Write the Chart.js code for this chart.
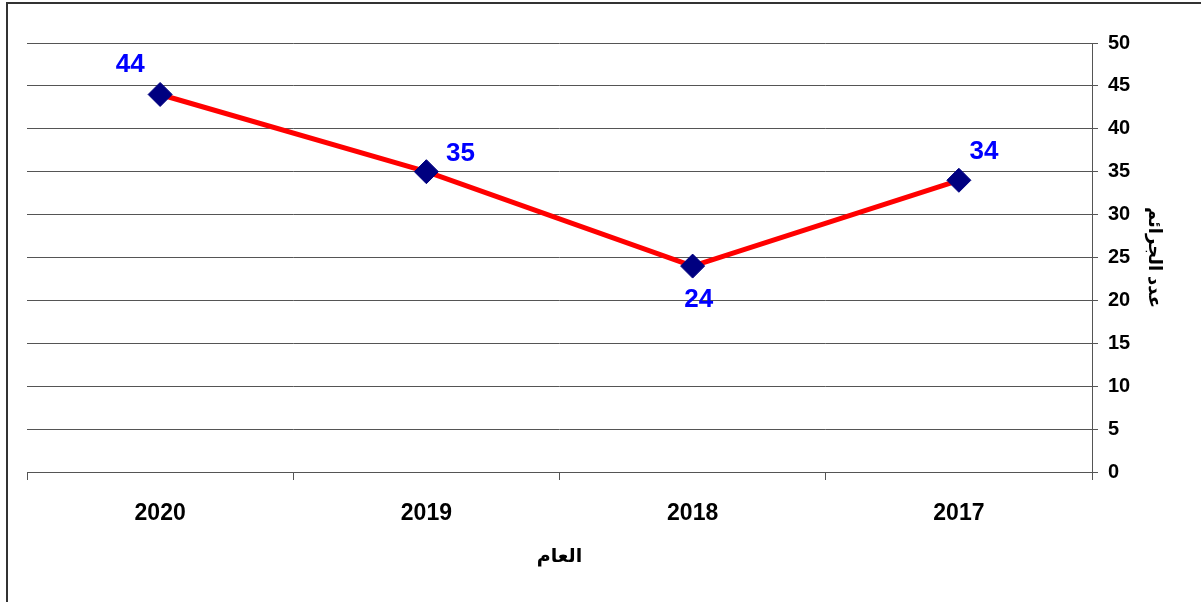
<!DOCTYPE html>
<html>
<head>
<meta charset="utf-8">
<script src="https://cdn.jsdelivr.net/npm/chart.js@4/dist/chart.umd.min.js"></script>
<style>
html,body{margin:0;padding:0;background:#fff;}
#wrap{position:relative;width:1201px;height:602px;}
canvas{display:block;}
</style>
</head>
<body>
<div id="wrap"><canvas id="c" width="1201" height="602"></canvas></div>
<script>
const categories = ['2020', '2019', '2018', '2017'];
const crimeCounts = [44, 35, 24, 34];
const yTitle = 'عدد الجرائم';
const xTitle = 'العام';
const yMin = 0, yMax = 50, yStep = 5;

const FONT = "'Liberation Sans', Arial, 'DejaVu Sans', sans-serif";

const framePlugin = {
  id: 'frame',
  beforeDraw(chart) {
    const ctx = chart.ctx;
    ctx.save();
    ctx.fillStyle = '#fff';
    ctx.fillRect(0, 0, chart.width, chart.height);
    ctx.strokeStyle = '#333';
    ctx.lineWidth = 2;
    ctx.beginPath();
    ctx.moveTo(7, chart.height);
    ctx.lineTo(7, 3);
    ctx.lineTo(chart.width, 3);
    ctx.stroke();
    ctx.restore();
  }
};

const labelPlugin = {
  id: 'pointLabels',
  afterDatasetsDraw(chart, args, opts) {
    const ctx = chart.ctx;
    const meta = chart.getDatasetMeta(0);
    const data = chart.data.datasets[0].data;
    ctx.save();
    ctx.font = opts.font;
    ctx.fillStyle = opts.color;
    ctx.textAlign = 'center';
    ctx.textBaseline = 'middle';
    meta.data.forEach((pt, i) => {
      const off = opts.offsets[i] || [0, -30];
      ctx.fillText(String(data[i]), pt.x + off[0], pt.y + off[1]);
    });
    ctx.restore();
  }
};

new Chart(document.getElementById('c'), {
  type: 'line',
  data: {
    labels: categories,
    datasets: [{
      data: crimeCounts,
      borderColor: '#ff0000',
      borderWidth: 5,
      tension: 0,
      pointStyle: 'rectRot',
      pointRadius: 12,
      pointHoverRadius: 12,
      pointBackgroundColor: '#000080',
      pointBorderColor: '#000080',
      pointBorderWidth: 1
    }]
  },
  options: {
    responsive: false,
    animation: false,
    events: [],
    layout: { padding: { left: 27, top: 43, right: 0, bottom: 0 } },
    plugins: {
      legend: { display: false },
      tooltip: { enabled: false },
      pointLabels: {
        font: "bold 26px " + FONT,
        color: '#0000ff',
        offsets: [[-30, -30], [34, -18], [6, 34], [25, -28]]
      }
    },
    scales: {
      x: {
        offset: true,
        grid: { offset: true, drawOnChartArea: false, drawTicks: true, tickLength: 8, color: '#555', lineWidth: 1 },
        border: { display: true, color: '#555', width: 1 },
        ticks: { color: '#000', font: { family: FONT, size: 23, weight: 'bold' }, padding: 20, maxRotation: 0 },
        title: { display: true, text: xTitle, color: '#000', font: { family: FONT, size: 19, weight: 'bold' }, padding: { top: 0, bottom: 34 } },
        afterFit(scale) { scale.height = 130; }
      },
      y: {
        position: 'right',
        min: yMin,
        max: yMax,
        grid: { color: '#555', lineWidth: 1, tickLength: 6, drawTicks: true },
        border: { display: true, color: '#555', width: 1 },
        ticks: { stepSize: yStep, color: '#000', font: { family: FONT, size: 20, weight: 'bold' }, padding: 10 },
        title: { display: true, text: yTitle, color: '#000', font: { family: FONT, size: 18, weight: 'bold' }, padding: { top: 36, bottom: 0 } },
        afterFit(scale) { scale.width = 109; }
      }
    }
  },
  plugins: [framePlugin, labelPlugin]
});
</script>
</body>
</html>
